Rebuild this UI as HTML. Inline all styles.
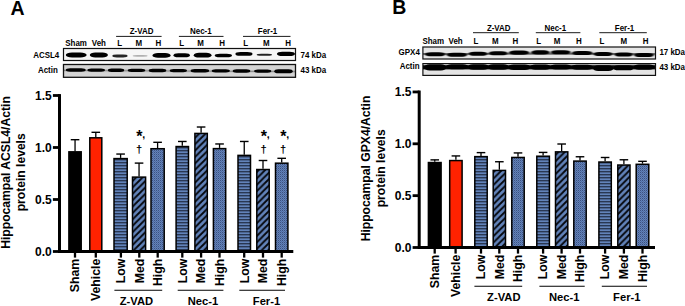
<!DOCTYPE html>
<html><head><meta charset="utf-8"><title>Figure</title>
<style>html,body{margin:0;padding:0;background:#fff;}svg{display:block;}text{font-family:"Liberation Sans",sans-serif;font-weight:bold;fill:#000;}</style>
</head><body>
<svg width="685" height="306" viewBox="0 0 685 306">
<defs>
<pattern id="ph" width="3" height="3" patternUnits="userSpaceOnUse"><rect width="3" height="3" fill="#6283ba"/><rect y="0.1" width="3" height="1.25" fill="#222e47"/></pattern>
<pattern id="pd" width="6.4" height="6.4" patternUnits="userSpaceOnUse"><rect width="6.4" height="6.4" fill="#6283ba"/><path d="M-1,7.4 L7.4,-1 M-1,1 L1,-1 M5.4,7.4 L7.4,5.4" stroke="#05070c" stroke-width="1.85"/></pattern>
<pattern id="pc" width="2" height="2" patternUnits="userSpaceOnUse"><rect width="2" height="2" fill="#6283ba"/><rect x="0" y="0" width="1" height="1" fill="#3d5180"/><rect x="1" y="1" width="1" height="1" fill="#526c9f"/></pattern>
<filter id="b1" x="-20%" y="-80%" width="140%" height="260%"><feGaussianBlur stdDeviation="0.7 0.55"/></filter>
<filter id="b2" x="-20%" y="-80%" width="140%" height="260%"><feGaussianBlur stdDeviation="0.9 0.65"/></filter>
<clipPath id="cA1"><rect x="63.5" y="48.5" width="232" height="12"/></clipPath>
<clipPath id="cA2"><rect x="63.5" y="64.5" width="232" height="12.8"/></clipPath>
<clipPath id="cB1"><rect x="422.9" y="47" width="232.6" height="12"/></clipPath>
<clipPath id="cB2"><rect x="422.9" y="63.6" width="232.6" height="11.8"/></clipPath>
</defs>
<rect width="685" height="306" fill="#fff"/>
<text x="10.6" y="14.8" font-size="19.5" text-anchor="start">A</text>
<text x="392.3" y="13.7" font-size="19.5" text-anchor="start">B</text>
<rect x="63.5" y="48.5" width="232" height="12" fill="#f6f6f6" stroke="#111" stroke-width="1.2"/>
<g clip-path="url(#cA1)">
<rect x="65.8" y="52.62" width="20.8" height="4.97" rx="6.24" ry="2.48" fill="#000" opacity="1" filter="url(#b1)"/>
<rect x="89.8" y="52.62" width="18.1" height="4.97" rx="5.43" ry="2.48" fill="#000" opacity="1" filter="url(#b1)"/>
<rect x="112.3" y="54.62" width="15.3" height="2.76" rx="4.59" ry="1.38" fill="#000" opacity="0.85" filter="url(#b1)"/>
<rect x="132.7" y="54.88" width="14.9" height="1.84" rx="4.47" ry="0.92" fill="#000" opacity="0.28" filter="url(#b1)"/>
<rect x="152.5" y="53.10" width="18.1" height="4.60" rx="5.43" ry="2.30" fill="#000" opacity="1" filter="url(#b1)"/>
<rect x="173.5" y="53.28" width="16.4" height="4.05" rx="4.92" ry="2.02" fill="#000" opacity="1" filter="url(#b1)"/>
<rect x="193.7" y="52.81" width="17.8" height="4.78" rx="5.34" ry="2.39" fill="#000" opacity="1" filter="url(#b1)"/>
<rect x="214.7" y="53.75" width="17.3" height="3.50" rx="5.19" ry="1.75" fill="#000" opacity="1" filter="url(#b1)"/>
<rect x="235.4" y="51.97" width="17.1" height="3.86" rx="5.13" ry="1.93" fill="#000" opacity="1" filter="url(#b1)"/>
<rect x="256.7" y="53.69" width="15.3" height="2.02" rx="4.59" ry="1.01" fill="#000" opacity="0.85" filter="url(#b1)"/>
<rect x="276.9" y="51.74" width="18.1" height="4.32" rx="5.43" ry="2.16" fill="#000" opacity="1" filter="url(#b1)"/>
</g>
<rect x="63.5" y="64.5" width="232" height="12.8" fill="#d4d4d4" stroke="#111" stroke-width="1.3"/>
<g clip-path="url(#cA2)">
<rect x="64" y="69.6" width="231" height="1.6" fill="#000" opacity="0.35" filter="url(#b1)" transform="rotate(0.3 64 70)"/>
<rect x="65.8" y="68.30" width="19.9" height="3.40" rx="4.38" ry="1.70" fill="#000" opacity="1" filter="url(#b1)"/>
<rect x="87.4" y="68.42" width="17.6" height="3.40" rx="3.87" ry="1.70" fill="#000" opacity="1" filter="url(#b1)"/>
<rect x="107.9" y="68.54" width="16.3" height="3.40" rx="3.59" ry="1.70" fill="#000" opacity="1" filter="url(#b1)"/>
<rect x="127.7" y="68.66" width="17.6" height="3.40" rx="3.87" ry="1.70" fill="#000" opacity="1" filter="url(#b1)"/>
<rect x="148.7" y="68.78" width="17.6" height="3.40" rx="3.87" ry="1.70" fill="#000" opacity="1" filter="url(#b1)"/>
<rect x="169.7" y="68.90" width="17.3" height="3.40" rx="3.81" ry="1.70" fill="#000" opacity="1" filter="url(#b1)"/>
<rect x="190.6" y="69.02" width="18.6" height="3.40" rx="4.09" ry="1.70" fill="#000" opacity="1" filter="url(#b1)"/>
<rect x="211.7" y="69.14" width="18.2" height="3.40" rx="4.00" ry="1.70" fill="#000" opacity="1" filter="url(#b1)"/>
<rect x="232.7" y="69.26" width="17.6" height="3.40" rx="3.87" ry="1.70" fill="#000" opacity="1" filter="url(#b1)"/>
<rect x="254.1" y="69.38" width="17.2" height="3.40" rx="3.78" ry="1.70" fill="#000" opacity="1" filter="url(#b1)"/>
<rect x="274.3" y="69.20" width="18.4" height="4.00" rx="4.05" ry="2.00" fill="#000" opacity="1" filter="url(#b1)"/>
</g>
<rect x="422.9" y="47" width="232.6" height="12" fill="#e6e6e6" stroke="#111" stroke-width="1.2"/>
<g clip-path="url(#cB1)">
<rect x="423" y="53" width="232" height="1.8" fill="#000" opacity="0.5" filter="url(#b1)"/>
<rect x="424.8" y="52.15" width="20.6" height="4.10" rx="6.18" ry="2.05" fill="#000" opacity="1" filter="url(#b2)"/>
<rect x="446.6" y="52.75" width="20.7" height="4.10" rx="6.21" ry="2.05" fill="#000" opacity="1" filter="url(#b2)"/>
<rect x="468.5" y="51.65" width="19.0" height="4.10" rx="5.70" ry="2.05" fill="#000" opacity="1" filter="url(#b2)"/>
<rect x="488.7" y="51.15" width="18.9" height="4.10" rx="5.67" ry="2.05" fill="#000" opacity="1" filter="url(#b2)"/>
<rect x="508.7" y="50.55" width="20.8" height="4.10" rx="6.24" ry="2.05" fill="#000" opacity="1" filter="url(#b2)"/>
<rect x="531.0" y="50.35" width="18.8" height="4.10" rx="5.64" ry="2.05" fill="#000" opacity="1" filter="url(#b2)"/>
<rect x="550.8" y="50.15" width="19.9" height="4.10" rx="5.97" ry="2.05" fill="#000" opacity="1" filter="url(#b2)"/>
<rect x="571.9" y="50.95" width="20.7" height="4.10" rx="6.21" ry="2.05" fill="#000" opacity="1" filter="url(#b2)"/>
<rect x="593.4" y="51.95" width="19.3" height="4.10" rx="5.79" ry="2.05" fill="#000" opacity="1" filter="url(#b2)"/>
<rect x="614.4" y="52.45" width="18.5" height="4.10" rx="5.55" ry="2.05" fill="#000" opacity="1" filter="url(#b2)"/>
<rect x="634.0" y="52.95" width="19.9" height="4.10" rx="5.97" ry="2.05" fill="#000" opacity="1" filter="url(#b2)"/>
</g>
<rect x="422.9" y="63.6" width="232.6" height="11.8" fill="#e4e4e4" stroke="#111" stroke-width="1.2"/>
<g clip-path="url(#cB2)">
<rect x="423" y="65.2" width="232" height="4.2" fill="#000" opacity="0.95" filter="url(#b1)"/>
<rect x="424.0" y="64.35" width="22.5" height="6.10" rx="5.62" ry="3.05" fill="#000" opacity="1" filter="url(#b1)"/>
<rect x="446.0" y="64.35" width="22.5" height="4.90" rx="5.62" ry="2.45" fill="#000" opacity="1" filter="url(#b1)"/>
<rect x="468.0" y="64.35" width="20.5" height="5.30" rx="5.12" ry="2.65" fill="#000" opacity="1" filter="url(#b1)"/>
<rect x="488.0" y="64.35" width="20.5" height="5.30" rx="5.12" ry="2.65" fill="#000" opacity="1" filter="url(#b1)"/>
<rect x="508.0" y="64.45" width="22.5" height="5.50" rx="5.62" ry="2.75" fill="#000" opacity="1" filter="url(#b1)"/>
<rect x="530.0" y="64.55" width="20.8" height="5.30" rx="5.20" ry="2.65" fill="#000" opacity="1" filter="url(#b1)"/>
<rect x="550.0" y="64.55" width="21.5" height="4.90" rx="5.38" ry="2.45" fill="#000" opacity="1" filter="url(#b1)"/>
<rect x="571.0" y="64.65" width="22.0" height="5.10" rx="5.50" ry="2.55" fill="#000" opacity="1" filter="url(#b1)"/>
<rect x="593.0" y="65.35" width="20.5" height="5.70" rx="5.12" ry="2.85" fill="#000" opacity="1" filter="url(#b1)"/>
<rect x="613.5" y="65.25" width="20.0" height="5.10" rx="5.00" ry="2.55" fill="#000" opacity="1" filter="url(#b1)"/>
<rect x="633.5" y="64.55" width="21.0" height="5.30" rx="5.25" ry="2.65" fill="#000" opacity="1" filter="url(#b1)"/>
</g>
<text transform="translate(59.2 58.0) scale(0.925 1)" font-size="8.6" text-anchor="end">ACSL4</text>
<text transform="translate(57.8 72.5) scale(0.925 1)" font-size="8.6" text-anchor="end">Actin</text>
<text transform="translate(300.5 57.8) scale(0.925 1)" font-size="8.6" text-anchor="start">74 kDa</text>
<text transform="translate(300.5 73.1) scale(0.925 1)" font-size="8.6" text-anchor="start">43 kDa</text>
<text transform="translate(65.3 46.4) scale(0.925 1)" font-size="8.6" text-anchor="start">Sham</text>
<text transform="translate(91.8 46.4) scale(0.925 1)" font-size="8.6" text-anchor="start">Veh</text>
<text transform="translate(119.7 46.4) scale(0.925 1)" font-size="8.6" text-anchor="middle">L</text>
<text transform="translate(138.9 46.4) scale(0.925 1)" font-size="8.6" text-anchor="middle">M</text>
<text transform="translate(158.4 46.4) scale(0.925 1)" font-size="8.6" text-anchor="middle">H</text>
<text transform="translate(181.6 46.4) scale(0.925 1)" font-size="8.6" text-anchor="middle">L</text>
<text transform="translate(200.5 46.4) scale(0.925 1)" font-size="8.6" text-anchor="middle">M</text>
<text transform="translate(222.2 46.4) scale(0.925 1)" font-size="8.6" text-anchor="middle">H</text>
<text transform="translate(245.6 46.4) scale(0.925 1)" font-size="8.6" text-anchor="middle">L</text>
<text transform="translate(266.4 46.4) scale(0.925 1)" font-size="8.6" text-anchor="middle">M</text>
<text transform="translate(288.1 46.4) scale(0.925 1)" font-size="8.6" text-anchor="middle">H</text>
<text transform="translate(141.6 34.4) scale(0.925 1)" font-size="8.6" text-anchor="middle">Z-VAD</text>
<text transform="translate(200.8 34.4) scale(0.925 1)" font-size="8.6" text-anchor="middle">Nec-1</text>
<text transform="translate(267.5 34.4) scale(0.925 1)" font-size="8.6" text-anchor="middle">Fer-1</text>
<line x1="116.1" y1="36.4" x2="161.6" y2="36.4" stroke="#000" stroke-width="0.9"/>
<line x1="178.9" y1="36.4" x2="223.5" y2="36.4" stroke="#000" stroke-width="0.9"/>
<line x1="243" y1="36.4" x2="290.5" y2="36.4" stroke="#000" stroke-width="0.9"/>
<text transform="translate(419.8 55.0) scale(0.925 1)" font-size="8.6" text-anchor="end">GPX4</text>
<text transform="translate(419.5 69.3) scale(0.925 1)" font-size="8.6" text-anchor="end">Actin</text>
<text transform="translate(659.4 55.4) scale(0.925 1)" font-size="8.6" text-anchor="start">17 kDa</text>
<text transform="translate(659.4 70.4) scale(0.925 1)" font-size="8.6" text-anchor="start">43 kDa</text>
<text transform="translate(422.4 43.7) scale(0.925 1)" font-size="8.6" text-anchor="start">Sham</text>
<text transform="translate(448.6 43.7) scale(0.925 1)" font-size="8.6" text-anchor="start">Veh</text>
<text transform="translate(476 43.7) scale(0.925 1)" font-size="8.6" text-anchor="middle">L</text>
<text transform="translate(495.4 43.7) scale(0.925 1)" font-size="8.6" text-anchor="middle">M</text>
<text transform="translate(515.3 43.7) scale(0.925 1)" font-size="8.6" text-anchor="middle">H</text>
<text transform="translate(538.6 43.7) scale(0.925 1)" font-size="8.6" text-anchor="middle">L</text>
<text transform="translate(557 43.7) scale(0.925 1)" font-size="8.6" text-anchor="middle">M</text>
<text transform="translate(578.9 43.7) scale(0.925 1)" font-size="8.6" text-anchor="middle">H</text>
<text transform="translate(601.9 43.7) scale(0.925 1)" font-size="8.6" text-anchor="middle">L</text>
<text transform="translate(623.7 43.7) scale(0.925 1)" font-size="8.6" text-anchor="middle">M</text>
<text transform="translate(645.5 43.7) scale(0.925 1)" font-size="8.6" text-anchor="middle">H</text>
<text transform="translate(498.7 30.8) scale(0.925 1)" font-size="8.6" text-anchor="middle">Z-VAD</text>
<text transform="translate(555.3 30.8) scale(0.925 1)" font-size="8.6" text-anchor="middle">Nec-1</text>
<text transform="translate(624.5 30.8) scale(0.925 1)" font-size="8.6" text-anchor="middle">Fer-1</text>
<line x1="473" y1="32.7" x2="518.8" y2="32.7" stroke="#000" stroke-width="0.9"/>
<line x1="535.8" y1="32.7" x2="580.4" y2="32.7" stroke="#000" stroke-width="0.9"/>
<line x1="599.3" y1="32.7" x2="646.8" y2="32.7" stroke="#000" stroke-width="0.9"/>
<line x1="75.05000000000001" y1="151.14" x2="75.05000000000001" y2="139.7" stroke="#000" stroke-width="1.3"/>
<line x1="70.75000000000001" y1="139.7" x2="79.35000000000001" y2="139.7" stroke="#000" stroke-width="1.4"/>
<rect x="68.90" y="151.84" width="12.30" height="99.66" fill="#000" stroke="#000" stroke-width="1.5"/>
<line x1="95.8" y1="137.1" x2="95.8" y2="132.316" stroke="#000" stroke-width="1.3"/>
<line x1="91.5" y1="132.316" x2="100.1" y2="132.316" stroke="#000" stroke-width="1.4"/>
<rect x="89.80" y="137.80" width="12.00" height="113.70" fill="#ff2200" stroke="#000" stroke-width="1.5"/>
<line x1="120.6" y1="157.89999999999998" x2="120.6" y2="154.052" stroke="#000" stroke-width="1.3"/>
<line x1="116.3" y1="154.052" x2="124.89999999999999" y2="154.052" stroke="#000" stroke-width="1.4"/>
<rect x="114.00" y="158.60" width="13.20" height="92.90" fill="url(#ph)" stroke="#000" stroke-width="1.5"/>
<line x1="139.05" y1="176.412" x2="139.05" y2="163.10000000000002" stroke="#000" stroke-width="1.3"/>
<line x1="134.75" y1="163.10000000000002" x2="143.35000000000002" y2="163.10000000000002" stroke="#000" stroke-width="1.4"/>
<rect x="132.50" y="177.11" width="13.10" height="74.39" fill="url(#pd)" stroke="#000" stroke-width="1.5"/>
<line x1="157.6" y1="148.01999999999998" x2="157.6" y2="142.3" stroke="#000" stroke-width="1.3"/>
<line x1="153.29999999999998" y1="142.3" x2="161.9" y2="142.3" stroke="#000" stroke-width="1.4"/>
<rect x="151.00" y="148.72" width="13.20" height="102.78" fill="url(#pc)" stroke="#000" stroke-width="1.5"/>
<line x1="182.3" y1="145.836" x2="182.3" y2="141.468" stroke="#000" stroke-width="1.3"/>
<line x1="178.0" y1="141.468" x2="186.60000000000002" y2="141.468" stroke="#000" stroke-width="1.4"/>
<rect x="176.10" y="146.54" width="12.40" height="104.96" fill="url(#ph)" stroke="#000" stroke-width="1.5"/>
<line x1="201.10000000000002" y1="132.73200000000003" x2="201.10000000000002" y2="127.012" stroke="#000" stroke-width="1.3"/>
<line x1="196.8" y1="127.012" x2="205.40000000000003" y2="127.012" stroke="#000" stroke-width="1.4"/>
<rect x="194.90" y="133.43" width="12.40" height="118.07" fill="url(#pd)" stroke="#000" stroke-width="1.5"/>
<line x1="219.55" y1="147.916" x2="219.55" y2="143.964" stroke="#000" stroke-width="1.3"/>
<line x1="215.25" y1="143.964" x2="223.85000000000002" y2="143.964" stroke="#000" stroke-width="1.4"/>
<rect x="213.40" y="148.62" width="12.30" height="102.88" fill="url(#pc)" stroke="#000" stroke-width="1.5"/>
<line x1="244.25" y1="154.676" x2="244.25" y2="141.468" stroke="#000" stroke-width="1.3"/>
<line x1="239.95" y1="141.468" x2="248.55" y2="141.468" stroke="#000" stroke-width="1.4"/>
<rect x="238.00" y="155.38" width="12.50" height="96.12" fill="url(#ph)" stroke="#000" stroke-width="1.5"/>
<line x1="263.0" y1="168.82" x2="263.0" y2="160.5" stroke="#000" stroke-width="1.3"/>
<line x1="258.7" y1="160.5" x2="267.3" y2="160.5" stroke="#000" stroke-width="1.4"/>
<rect x="256.80" y="169.52" width="12.40" height="81.98" fill="url(#pd)" stroke="#000" stroke-width="1.5"/>
<line x1="281.7" y1="162.476" x2="281.7" y2="158.316" stroke="#000" stroke-width="1.3"/>
<line x1="277.4" y1="158.316" x2="286.0" y2="158.316" stroke="#000" stroke-width="1.4"/>
<rect x="275.50" y="163.18" width="12.40" height="88.32" fill="url(#pc)" stroke="#000" stroke-width="1.5"/>
<line x1="59.5" y1="94.1" x2="59.5" y2="252.9" stroke="#000" stroke-width="3.0"/>
<line x1="58.2" y1="251.4" x2="293.3" y2="251.4" stroke="#000" stroke-width="3.0"/>
<line x1="52.900000000000006" y1="251.5" x2="59.7" y2="251.5" stroke="#000" stroke-width="2.8"/>
<text x="51.7" y="255.8" font-size="12.0" text-anchor="end">0.0</text>
<line x1="52.900000000000006" y1="199.5" x2="59.7" y2="199.5" stroke="#000" stroke-width="2.8"/>
<text x="51.7" y="203.8" font-size="12.0" text-anchor="end">0.5</text>
<line x1="52.900000000000006" y1="147.5" x2="59.7" y2="147.5" stroke="#000" stroke-width="2.8"/>
<text x="51.7" y="151.8" font-size="12.0" text-anchor="end">1.0</text>
<line x1="52.900000000000006" y1="95.5" x2="59.7" y2="95.5" stroke="#000" stroke-width="2.8"/>
<text x="51.7" y="99.8" font-size="12.0" text-anchor="end">1.5</text>
<line x1="75.0" y1="251.5" x2="75.0" y2="257.6" stroke="#000" stroke-width="2.3"/>
<text x="79.4" y="258.7" font-size="12.3" text-anchor="end" transform="rotate(-90 79.4 258.7)">Sham</text>
<line x1="95.8" y1="251.5" x2="95.8" y2="257.6" stroke="#000" stroke-width="2.3"/>
<text x="100.2" y="258.7" font-size="12.3" text-anchor="end" transform="rotate(-90 100.2 258.7)">Vehicle</text>
<line x1="120.9" y1="251.5" x2="120.9" y2="257.6" stroke="#000" stroke-width="2.3"/>
<text x="125.30000000000001" y="258.7" font-size="12.3" text-anchor="end" transform="rotate(-90 125.30000000000001 258.7)">Low</text>
<line x1="139.3" y1="251.5" x2="139.3" y2="257.6" stroke="#000" stroke-width="2.3"/>
<text x="143.70000000000002" y="258.7" font-size="12.3" text-anchor="end" transform="rotate(-90 143.70000000000002 258.7)">Med</text>
<line x1="157.7" y1="251.5" x2="157.7" y2="257.6" stroke="#000" stroke-width="2.3"/>
<text x="162.1" y="258.7" font-size="12.3" text-anchor="end" transform="rotate(-90 162.1 258.7)">High</text>
<line x1="182.3" y1="251.5" x2="182.3" y2="257.6" stroke="#000" stroke-width="2.3"/>
<text x="186.70000000000002" y="258.7" font-size="12.3" text-anchor="end" transform="rotate(-90 186.70000000000002 258.7)">Low</text>
<line x1="201.1" y1="251.5" x2="201.1" y2="257.6" stroke="#000" stroke-width="2.3"/>
<text x="205.5" y="258.7" font-size="12.3" text-anchor="end" transform="rotate(-90 205.5 258.7)">Med</text>
<line x1="219.5" y1="251.5" x2="219.5" y2="257.6" stroke="#000" stroke-width="2.3"/>
<text x="223.9" y="258.7" font-size="12.3" text-anchor="end" transform="rotate(-90 223.9 258.7)">High</text>
<line x1="244.2" y1="251.5" x2="244.2" y2="257.6" stroke="#000" stroke-width="2.3"/>
<text x="248.6" y="258.7" font-size="12.3" text-anchor="end" transform="rotate(-90 248.6 258.7)">Low</text>
<line x1="263.0" y1="251.5" x2="263.0" y2="257.6" stroke="#000" stroke-width="2.3"/>
<text x="267.4" y="258.7" font-size="12.3" text-anchor="end" transform="rotate(-90 267.4 258.7)">Med</text>
<line x1="281.7" y1="251.5" x2="281.7" y2="257.6" stroke="#000" stroke-width="2.3"/>
<text x="286.09999999999997" y="258.7" font-size="12.3" text-anchor="end" transform="rotate(-90 286.09999999999997 258.7)">High</text>
<line x1="114.4" y1="290.2" x2="162.2" y2="290.2" stroke="#000" stroke-width="1.1"/>
<line x1="177.7" y1="290.2" x2="223.4" y2="290.2" stroke="#000" stroke-width="1.1"/>
<line x1="239.3" y1="290.2" x2="285.0" y2="290.2" stroke="#000" stroke-width="1.1"/>
<text x="136.4" y="305.3" font-size="11.2" text-anchor="middle">Z-VAD</text>
<text x="203.0" y="305.3" font-size="11.2" text-anchor="middle">Nec-1</text>
<text x="266.5" y="305.3" font-size="11.2" text-anchor="middle">Fer-1</text>
<text x="0" y="172.5" font-size="10" text-anchor="start"></text>
<text x="10.0" y="172.5" font-size="12.15" text-anchor="middle" transform="rotate(-90 10.0 172.5)">Hippocampal ACSL4/Actin</text>
<text x="24.9" y="172.3" font-size="12.1" text-anchor="middle" transform="rotate(-90 24.9 172.3)">protein levels</text>
<text x="139.29999999999998" y="142.2" font-size="16" text-anchor="middle">*</text>
<text x="142.2" y="137.9" font-size="10.5" text-anchor="start">,</text>
<text x="139.1" y="152.6" font-size="11.1" text-anchor="middle">†</text>
<text x="263.9" y="142.2" font-size="16" text-anchor="middle">*</text>
<text x="266.8" y="137.9" font-size="10.5" text-anchor="start">,</text>
<text x="263.7" y="152.6" font-size="11.1" text-anchor="middle">†</text>
<text x="283.4" y="142.2" font-size="16" text-anchor="middle">*</text>
<text x="286.3" y="137.9" font-size="10.5" text-anchor="start">,</text>
<text x="283.2" y="152.6" font-size="11.1" text-anchor="middle">†</text>
<line x1="434.75" y1="161.8438" x2="434.75" y2="159.8735" stroke="#000" stroke-width="1.3"/>
<line x1="430.45" y1="159.8735" x2="439.05" y2="159.8735" stroke="#000" stroke-width="1.4"/>
<rect x="428.40" y="162.54" width="12.70" height="84.96" fill="#000" stroke="#000" stroke-width="1.5"/>
<line x1="455.9" y1="159.8735" x2="455.9" y2="155.93290000000002" stroke="#000" stroke-width="1.3"/>
<line x1="451.59999999999997" y1="155.93290000000002" x2="460.2" y2="155.93290000000002" stroke="#000" stroke-width="1.4"/>
<rect x="449.70" y="160.57" width="12.40" height="86.93" fill="#ff2200" stroke="#000" stroke-width="1.5"/>
<line x1="481.0" y1="155.93290000000002" x2="481.0" y2="152.6145" stroke="#000" stroke-width="1.3"/>
<line x1="476.7" y1="152.6145" x2="485.3" y2="152.6145" stroke="#000" stroke-width="1.4"/>
<rect x="474.80" y="156.63" width="12.40" height="90.87" fill="url(#ph)" stroke="#000" stroke-width="1.5"/>
<line x1="499.35" y1="169.725" x2="499.35" y2="161.74009999999998" stroke="#000" stroke-width="1.3"/>
<line x1="495.05" y1="161.74009999999998" x2="503.65000000000003" y2="161.74009999999998" stroke="#000" stroke-width="1.4"/>
<rect x="493.20" y="170.42" width="12.30" height="77.08" fill="url(#pd)" stroke="#000" stroke-width="1.5"/>
<line x1="518.0" y1="156.7625" x2="518.0" y2="152.92559999999997" stroke="#000" stroke-width="1.3"/>
<line x1="513.7" y1="152.92559999999997" x2="522.3" y2="152.92559999999997" stroke="#000" stroke-width="1.4"/>
<rect x="511.80" y="157.46" width="12.40" height="90.04" fill="url(#pc)" stroke="#000" stroke-width="1.5"/>
<line x1="543.0999999999999" y1="155.5181" x2="543.0999999999999" y2="152.4071" stroke="#000" stroke-width="1.3"/>
<line x1="538.8" y1="152.4071" x2="547.3999999999999" y2="152.4071" stroke="#000" stroke-width="1.4"/>
<rect x="536.80" y="156.22" width="12.60" height="91.28" fill="url(#ph)" stroke="#000" stroke-width="1.5"/>
<line x1="561.65" y1="151.16269999999997" x2="561.65" y2="144.00740000000002" stroke="#000" stroke-width="1.3"/>
<line x1="557.35" y1="144.00740000000002" x2="565.9499999999999" y2="144.00740000000002" stroke="#000" stroke-width="1.4"/>
<rect x="555.50" y="151.86" width="12.30" height="95.64" fill="url(#pd)" stroke="#000" stroke-width="1.5"/>
<line x1="580.0" y1="160.392" x2="580.0" y2="156.7625" stroke="#000" stroke-width="1.3"/>
<line x1="575.7" y1="156.7625" x2="584.3" y2="156.7625" stroke="#000" stroke-width="1.4"/>
<rect x="573.80" y="161.09" width="12.40" height="86.41" fill="url(#pc)" stroke="#000" stroke-width="1.5"/>
<line x1="605.0999999999999" y1="161.3253" x2="605.0999999999999" y2="157.4884" stroke="#000" stroke-width="1.3"/>
<line x1="600.8" y1="157.4884" x2="609.3999999999999" y2="157.4884" stroke="#000" stroke-width="1.4"/>
<rect x="598.90" y="162.03" width="12.40" height="85.47" fill="url(#ph)" stroke="#000" stroke-width="1.5"/>
<line x1="623.9" y1="164.3326" x2="623.9" y2="159.7698" stroke="#000" stroke-width="1.3"/>
<line x1="619.6" y1="159.7698" x2="628.1999999999999" y2="159.7698" stroke="#000" stroke-width="1.4"/>
<rect x="617.80" y="165.03" width="12.20" height="82.47" fill="url(#pd)" stroke="#000" stroke-width="1.5"/>
<line x1="642.5" y1="163.6067" x2="642.5" y2="161.3253" stroke="#000" stroke-width="1.3"/>
<line x1="638.2" y1="161.3253" x2="646.8" y2="161.3253" stroke="#000" stroke-width="1.4"/>
<rect x="636.20" y="164.31" width="12.60" height="83.19" fill="url(#pc)" stroke="#000" stroke-width="1.5"/>
<line x1="419.2" y1="90.54999999999998" x2="419.2" y2="248.9" stroke="#000" stroke-width="3.0"/>
<line x1="417.9" y1="247.4" x2="655.0" y2="247.4" stroke="#000" stroke-width="3.0"/>
<line x1="412.59999999999997" y1="247.5" x2="419.4" y2="247.5" stroke="#000" stroke-width="2.8"/>
<text x="411.4" y="251.8" font-size="12.0" text-anchor="end">0.0</text>
<line x1="412.59999999999997" y1="195.65" x2="419.4" y2="195.65" stroke="#000" stroke-width="2.8"/>
<text x="411.4" y="199.95000000000002" font-size="12.0" text-anchor="end">0.5</text>
<line x1="412.59999999999997" y1="143.8" x2="419.4" y2="143.8" stroke="#000" stroke-width="2.8"/>
<text x="411.4" y="148.10000000000002" font-size="12.0" text-anchor="end">1.0</text>
<line x1="412.59999999999997" y1="91.94999999999999" x2="419.4" y2="91.94999999999999" stroke="#000" stroke-width="2.8"/>
<text x="411.4" y="96.24999999999999" font-size="12.0" text-anchor="end">1.5</text>
<line x1="434.7" y1="247.5" x2="434.7" y2="253.6" stroke="#000" stroke-width="2.3"/>
<text x="439.09999999999997" y="254.7" font-size="12.3" text-anchor="end" transform="rotate(-90 439.09999999999997 254.7)">Sham</text>
<line x1="455.6" y1="247.5" x2="455.6" y2="253.6" stroke="#000" stroke-width="2.3"/>
<text x="460.0" y="254.7" font-size="12.3" text-anchor="end" transform="rotate(-90 460.0 254.7)">Vehicle</text>
<line x1="481" y1="247.5" x2="481" y2="253.6" stroke="#000" stroke-width="2.3"/>
<text x="485.4" y="254.7" font-size="12.3" text-anchor="end" transform="rotate(-90 485.4 254.7)">Low</text>
<line x1="499.3" y1="247.5" x2="499.3" y2="253.6" stroke="#000" stroke-width="2.3"/>
<text x="503.7" y="254.7" font-size="12.3" text-anchor="end" transform="rotate(-90 503.7 254.7)">Med</text>
<line x1="518" y1="247.5" x2="518" y2="253.6" stroke="#000" stroke-width="2.3"/>
<text x="522.4" y="254.7" font-size="12.3" text-anchor="end" transform="rotate(-90 522.4 254.7)">High</text>
<line x1="543.1" y1="247.5" x2="543.1" y2="253.6" stroke="#000" stroke-width="2.3"/>
<text x="547.5" y="254.7" font-size="12.3" text-anchor="end" transform="rotate(-90 547.5 254.7)">Low</text>
<line x1="561.6" y1="247.5" x2="561.6" y2="253.6" stroke="#000" stroke-width="2.3"/>
<text x="566.0" y="254.7" font-size="12.3" text-anchor="end" transform="rotate(-90 566.0 254.7)">Med</text>
<line x1="580" y1="247.5" x2="580" y2="253.6" stroke="#000" stroke-width="2.3"/>
<text x="584.4" y="254.7" font-size="12.3" text-anchor="end" transform="rotate(-90 584.4 254.7)">High</text>
<line x1="605.1" y1="247.5" x2="605.1" y2="253.6" stroke="#000" stroke-width="2.3"/>
<text x="609.5" y="254.7" font-size="12.3" text-anchor="end" transform="rotate(-90 609.5 254.7)">Low</text>
<line x1="623.9" y1="247.5" x2="623.9" y2="253.6" stroke="#000" stroke-width="2.3"/>
<text x="628.3" y="254.7" font-size="12.3" text-anchor="end" transform="rotate(-90 628.3 254.7)">Med</text>
<line x1="642.5" y1="247.5" x2="642.5" y2="253.6" stroke="#000" stroke-width="2.3"/>
<text x="646.9" y="254.7" font-size="12.3" text-anchor="end" transform="rotate(-90 646.9 254.7)">High</text>
<line x1="474.4" y1="286.2" x2="522.2" y2="286.2" stroke="#000" stroke-width="1.1"/>
<line x1="539.4" y1="286.2" x2="584.7" y2="286.2" stroke="#000" stroke-width="1.1"/>
<line x1="601.8" y1="286.2" x2="647.0" y2="286.2" stroke="#000" stroke-width="1.1"/>
<text x="503.8" y="301.3" font-size="11.2" text-anchor="middle">Z-VAD</text>
<text x="564.2" y="301.3" font-size="11.2" text-anchor="middle">Nec-1</text>
<text x="626.8" y="301.3" font-size="11.2" text-anchor="middle">Fer-1</text>
<text x="0" y="168.725" font-size="10" text-anchor="start"></text>
<text x="370.0" y="168.5" font-size="12.15" text-anchor="middle" transform="rotate(-90 370.0 168.5)">Hippocampal GPX4/Actin</text>
<text x="384.8" y="168.3" font-size="12.1" text-anchor="middle" transform="rotate(-90 384.8 168.3)">protein levels</text>
</svg>
</body></html>
